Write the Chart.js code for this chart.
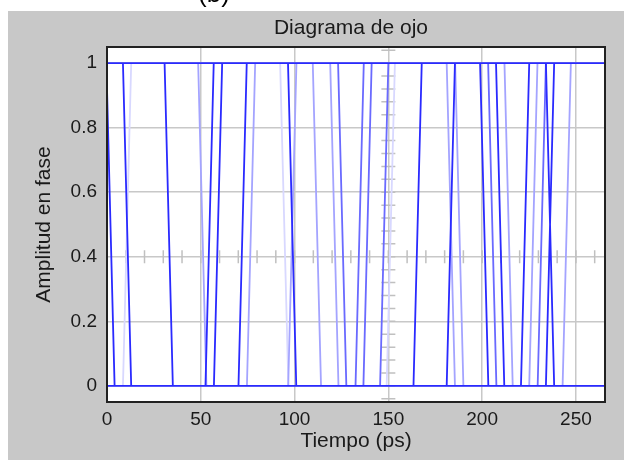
<!DOCTYPE html>
<html>
<head>
<meta charset="utf-8">
<title>Diagrama de ojo</title>
<script src="https://cdn.jsdelivr.net/npm/chart.js@4.4.1/dist/chart.umd.min.js"></script>
<style>
  html, body { margin: 0; padding: 0; background: #fff; }
  canvas { display: block; }
</style>
</head>
<body>
<canvas id="eye" width="624" height="460"></canvas>
<script>
/* Diagrama de ojo — eye diagram redrawn with Chart.js */

// axes
const X_MAX = 265.5;
const Y_MIN = -0.05;
const Y_MAX = 1.05;
const X_TICKS = [0, 50, 100, 150, 200, 250];
const X_TICK_LABELS = ['0', '50', '100', '150', '200', '250'];
const Y_TICKS = [0, 0.2, 0.4, 0.6, 0.8, 1];
const Y_TICK_LABELS = ['0', '0.2', '0.4', '0.6', '0.8', '1'];

// signal levels and edge duration (ps)
const HIGH = 1;
const LOW = 0;
const EDGE_TIME = 4.4;

// edge centres (ps, at half amplitude), grouped by trace intensity
const fallDark  = [1.85, 10.7, 32.9, 98.7, 201.1, 209.6, 236.2];
const riseDark  = [54.7, 59.2, 72.3, 165.6, 183.3, 222.9, 236.2];
const fallMid   = [125.4, 205.4];
const riseMid   = [134.7, 138.9, 147.8, 231.8];
const fallLight = [50.8, 111.9, 121.2, 183.3, 187.8, 214.1];
const riseLight = [76.8, 98.8, 227.3, 245.1];
const fallFaint = [94.5];
const riseFaint = [10.7, 151.3];

// crosshair through (150, 0.4) with minor ticks
const CROSS_X = 150;
const CROSS_Y = 0.4;
const CROSS_X_STEP = 10;
const CROSS_Y_STEP = 0.04;

/* ── Helpers ───────────────────────────────────── */

function edgePoints(falls, rises) {
  const pts = [];
  const h = EDGE_TIME / 2;
  falls.forEach((c) => {
    pts.push({ x: c - h, y: HIGH }, { x: c + h, y: LOW }, { x: c, y: null });
  });
  rises.forEach((c) => {
    pts.push({ x: c - h, y: LOW }, { x: c + h, y: HIGH }, { x: c, y: null });
  });
  return pts;
}

function trace(label, data, color) {
  return {
    label, data,
    borderColor: color,
    borderWidth: 1.8,
    pointRadius: 0,
    spanGaps: false,
    tension: 0,
  };
}

const FONT = '"Liberation Sans", Arial, sans-serif';
const TEXT = '#1a1a1a';

/* ── Decorations ───────────────────────────────── */

const frame = {
  id: 'frame',
  beforeDraw(chart) {
    const { ctx, width, height, chartArea: a } = chart;
    ctx.save();
    ctx.fillStyle = '#fff';
    ctx.fillRect(0, 0, width, height);
    ctx.fillStyle = '#c8c8c8';
    ctx.fillRect(8, 11, width - 8, height - 11);
    ctx.fillStyle = '#fff';
    ctx.fillRect(a.left, a.top, a.right - a.left, a.bottom - a.top);
    // clipped caption above the panel
    ctx.fillStyle = '#000';
    ctx.font = '26px ' + FONT;
    ctx.textAlign = 'center';
    ctx.textBaseline = 'alphabetic';
    ctx.fillText('(b)', 214, 2);
    // plot title
    ctx.fillStyle = TEXT;
    ctx.font = '21px ' + FONT;
    ctx.textBaseline = 'middle';
    ctx.fillText('Diagrama de ojo', 351, 28);
    ctx.restore();
  },
  beforeDatasetsDraw(chart) {
    const { ctx, scales: { x, y } } = chart;
    const cx = x.getPixelForValue(CROSS_X);
    const cy = y.getPixelForValue(CROSS_Y);
    ctx.save();
    ctx.strokeStyle = '#c0c0c0';
    ctx.lineWidth = 1.5;
    ctx.beginPath();
    for (let v = 0; v <= X_MAX; v += CROSS_X_STEP) {
      const px = x.getPixelForValue(v);
      ctx.moveTo(px, cy - 6.5);
      ctx.lineTo(px, cy + 6.5);
    }
    for (let k = -1; k * CROSS_Y_STEP <= Y_MAX; k++) {
      const py = y.getPixelForValue(k * CROSS_Y_STEP);
      ctx.moveTo(cx - 7, py);
      ctx.lineTo(cx + 7, py);
    }
    ctx.stroke();
    ctx.restore();
  },
  afterDraw(chart) {
    const { ctx, chartArea: a } = chart;
    ctx.save();
    ctx.strokeStyle = '#222';
    ctx.lineWidth = 2;
    ctx.strokeRect(a.left, a.top, a.right - a.left, a.bottom - a.top);
    ctx.restore();
  },
};

/* ── Chart ─────────────────────────────────────── */

const rails = [
  { x: 0, y: HIGH }, { x: X_MAX, y: HIGH }, { x: 0, y: null },
  { x: 0, y: LOW }, { x: X_MAX, y: LOW },
];

new Chart(document.getElementById('eye'), {
  type: 'line',
  data: {
    datasets: [
      trace('rails', rails, '#2a2aff'),
      trace('dark', edgePoints(fallDark, riseDark), '#2a2aff'),
      trace('mid', edgePoints(fallMid, riseMid), '#6a6aff'),
      trace('light', edgePoints(fallLight, riseLight), '#a4a4ff'),
      trace('faint', edgePoints(fallFaint, riseFaint), '#d8d8ff'),
    ],
  },
  options: {
    responsive: false,
    devicePixelRatio: 1,
    animation: false,
    parsing: false,
    normalized: true,
    layout: { padding: { top: 47, right: 19, left: 0, bottom: 0 } },
    plugins: {
      legend: { display: false },
      title: { display: false },
      tooltip: { enabled: false },
    },
    scales: {
      x: {
        type: 'linear',
        min: 0,
        max: X_MAX,
        afterBuildTicks: (s) => { s.ticks = X_TICKS.map((v) => ({ value: v })); },
        afterFit: (s) => { s.height = 58; },
        ticks: {
          autoSkip: false,
          maxRotation: 0,
          padding: 6,
          color: TEXT,
          font: { family: FONT, size: 19 },
          callback: (v, i) => X_TICK_LABELS[i],
        },
        grid: { color: '#c8c8c8', lineWidth: 1.5, drawTicks: false },
        border: { display: false },
        title: {
          display: true,
          text: 'Tiempo (ps)',
          color: TEXT,
          font: { family: FONT, size: 21 },
          padding: { top: 0, bottom: 6 },
        },
      },
      y: {
        type: 'linear',
        min: Y_MIN,
        max: Y_MAX,
        afterBuildTicks: (s) => { s.ticks = Y_TICKS.map((v) => ({ value: v })); },
        afterFit: (s) => { s.width = 107; },
        ticks: {
          padding: 10,
          color: TEXT,
          font: { family: FONT, size: 19 },
          callback: (v, i) => Y_TICK_LABELS[i],
        },
        grid: { color: '#c8c8c8', lineWidth: 1.5, drawTicks: false },
        border: { display: false },
        title: {
          display: true,
          text: 'Amplitud en fase',
          color: TEXT,
          font: { family: FONT, size: 21 },
          padding: { top: 32, bottom: 0 },
        },
      },
    },
  },
  plugins: [frame],
});
</script>
</body>
</html>
